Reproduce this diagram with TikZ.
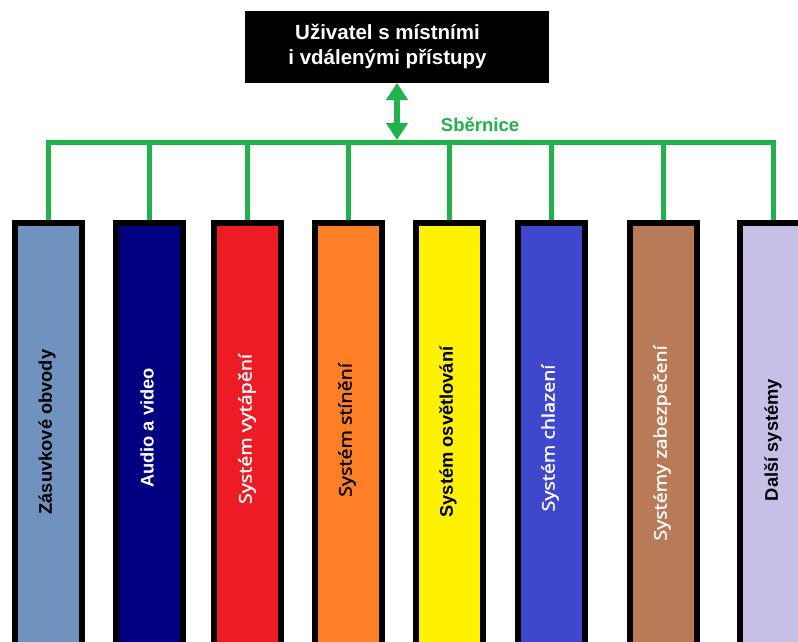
\documentclass[tikz,border=0pt]{standalone}
\usepackage{fontspec}
\setmainfont{Liberation Sans}
\newfontfamily\osans{Open Sans}[FakeBold=1.6]
\usetikzlibrary{arrows.meta}
\definecolor{busgreen}{HTML}{22B14C}
\definecolor{cA}{HTML}{7092BE}
\definecolor{cB}{HTML}{000080}
\definecolor{cC}{HTML}{ED1C24}
\definecolor{cD}{HTML}{FF7F27}
\definecolor{cE}{HTML}{FFF200}
\definecolor{cF}{HTML}{3F48CC}
\definecolor{cG}{HTML}{B97A57}
\definecolor{cH}{HTML}{C8BFE7}
\newcommand{\wide}[1]{\scalebox{1.13}[1]{#1}}
\tikzset{
  sysbox/.style={draw=black, line width=6pt, minimum width=67pt, minimum height=440pt,
                 inner sep=0pt, outer sep=0pt},
  boxlabel/.style={rotate=90, inner sep=0pt},
  arial/.style={font=\fontsize{18.3}{20}\selectfont\bfseries},
  segoe/.style={font=\fontsize{17.5}{20}\selectfont\osans},
  bus/.style={draw=busgreen, line width=5pt},
}
\begin{document}
\begin{tikzpicture}[x=1pt,y=-1pt]
\clip (0,0) rectangle (798,642);
\fill[white] (0,0) rectangle (798,642);
% top node
\node[fill=black, minimum width=304pt, minimum height=72pt, inner sep=0pt, outer sep=0pt] (user) at (397,47) {};
\node[text=white, align=center, inner sep=0pt, font=\fontsize{20.5}{25}\selectfont\bfseries] (usertext) at (387.5,46)
      {Uživatel s místními\\i vdálenými přístupy};
\path
  (48.5,443) node[sysbox, fill=cA] (b1) {}
  (149,443) node[sysbox, fill=cB] (b2) {}
  (247.5,443) node[sysbox, fill=cC] (b3) {}
  (348,443) node[sysbox, fill=cD] (b4) {}
  (449.5,443) node[sysbox, fill=cE] (b5) {}
  (551.5,443) node[sysbox, fill=cF] (b6) {}
  (663,443) node[sysbox, fill=cG] (b7) {}
  (773,443) node[sysbox, fill=cH] (b8) {};
\coordinate (busY) at (0,142.5);
\coordinate (busL) at (b1.north |- busY);
\coordinate (busR) at (b8.north |- busY);
% bus lines
\draw[bus, line join=miter] (b1.north) -- (busL) -- (busR) -- (b8.north);
\foreach \b in {b2,b3,b4,b5,b6,b7}{
  \draw[bus] (\b.north) -- (\b.north |- busY);
}
% redraw box borders on top of the bus drops
\foreach \b in {b1,b2,b3,b4,b5,b6,b7,b8}{
  \draw[black, line width=6pt] (\b.north west) rectangle (\b.south east);
}
% arrow
\coordinate (arrEnd) at (user.south |- 0,140);
\draw[draw=busgreen, fill=busgreen, line width=6pt,
      {Triangle[width=21pt,length=17pt]}-{Triangle[width=21pt,length=17pt]}]
      (user.south) -- (arrEnd);
\node[text=busgreen, font=\fontsize{18.5}{20}\selectfont\bfseries, anchor=base] (sb) at (480,131) {Sběrnice};
% labels
\node[boxlabel, arial, text=black] (t1) at (47,432) {Zásuvkové obvody};
\node[boxlabel, arial, text=white] (t2) at (147,428) {Audio a video};
\node[boxlabel, segoe, text=white] (t3) at (247,429) {\wide{Systém vytápění}};
\node[boxlabel, segoe, text=black] (t4) at (347,430) {\wide{Systém stínění}};
\node[boxlabel, arial, text=black] (t5) at (448,432) {Systém osvětlování};
\node[boxlabel, segoe, text=white] (t6) at (550,438) {\wide{Systém chlazení}};
\node[boxlabel, segoe, text=white] (t7) at (662,443) {\wide{Systémy zabezpečení}};
\node[boxlabel, arial, text=black] (t8) at (773,440) {Další systémy};
\end{tikzpicture}
\end{document}
